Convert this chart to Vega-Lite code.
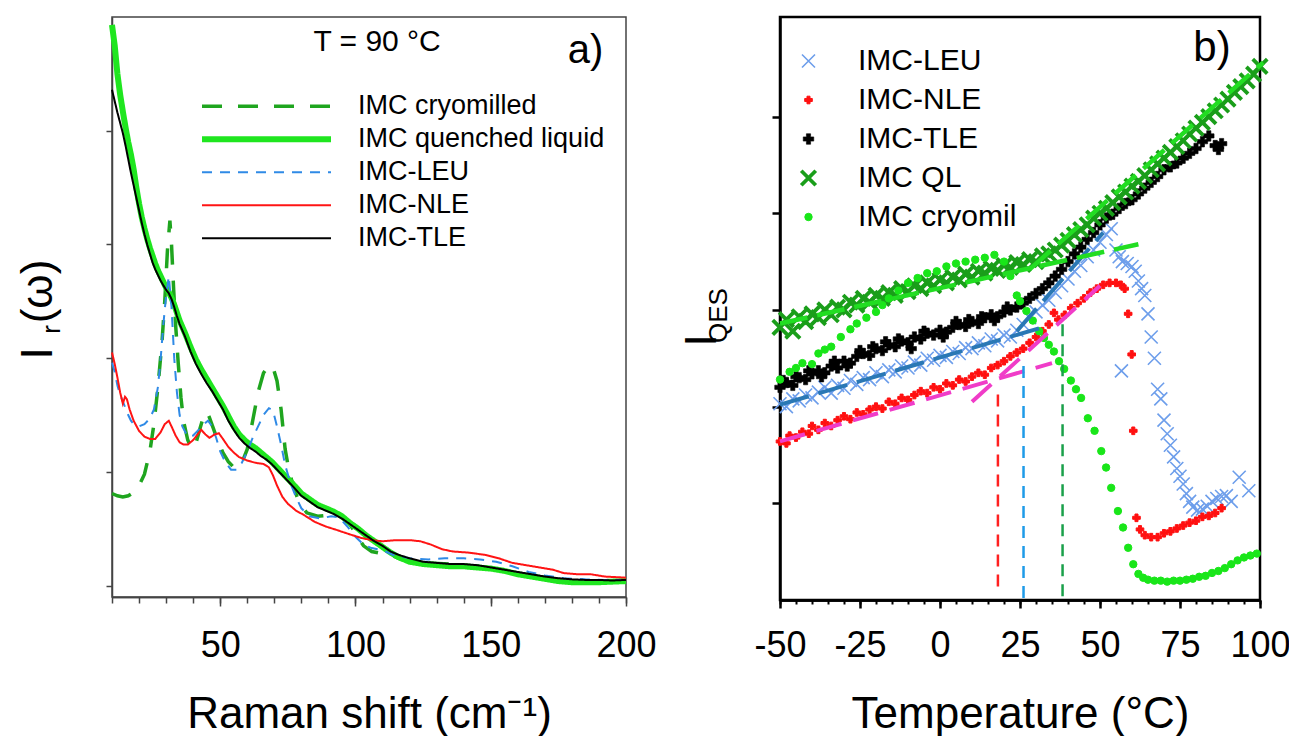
{
  "$schema": "https://vega.github.io/schema/vega-lite/v6.json",
  "autosize": {"type": "pad"},
  "padding": {"left": 15, "top": 12, "right": 0, "bottom": 0},
  "background": "white",
  "config": {
    "font": "Liberation Sans",
    "axis": {"grid": false, "labelColor": "#000", "titleColor": "#000", "titleFontWeight": "normal", "labelFont": "Liberation Sans", "titleFont": "Liberation Sans", "labelFlush": false, "labelOverlap": false},
    "legend": {"labelFont": "Liberation Sans", "labelColor": "#000", "labelLimit": 500},
    "text": {"font": "Liberation Sans", "color": "#000"}
  },
  "spacing": 154,
  "bounds": "flush",
  "resolve": {"scale": {"color": "independent", "strokeWidth": "independent", "strokeDash": "independent", "shape": "independent", "size": "independent", "fill": "independent", "stroke": "independent"}},
  "hconcat": [
    {
      "width": 514,
      "height": 580,
      "view": {"stroke": "#444", "strokeWidth": 1.5},
      "resolve": {"scale": {"y": "independent"}, "axis": {"x": "independent", "y": "independent"}},
      "layer": [
        {
          "data": {"values": [
            {"s":"IMC cryomilled","x":10,"y":0.81},{"s":"IMC cryomilled","x":12,"y":0.79},{"s":"IMC cryomilled","x":14,"y":0.78},{"s":"IMC cryomilled","x":16,"y":0.79},{"s":"IMC cryomilled","x":18,"y":0.82},{"s":"IMC cryomilled","x":20,"y":0.88},{"s":"IMC cryomilled","x":22,"y":0.98},{"s":"IMC cryomilled","x":24,"y":1.18},{"s":"IMC cryomilled","x":25.5,"y":1.42},{"s":"IMC cryomilled","x":27,"y":1.75},{"s":"IMC cryomilled","x":28.5,"y":2.15},{"s":"IMC cryomilled","x":29.5,"y":2.5},{"s":"IMC cryomilled","x":30.5,"y":2.95},{"s":"IMC cryomilled","x":31.4,"y":3.21},{"s":"IMC cryomilled","x":32,"y":3.0},{"s":"IMC cryomilled","x":32.8,"y":2.6},{"s":"IMC cryomilled","x":33.5,"y":2.3},{"s":"IMC cryomilled","x":34.5,"y":1.95},{"s":"IMC cryomilled","x":35.5,"y":1.65},{"s":"IMC cryomilled","x":36.5,"y":1.44},{"s":"IMC cryomilled","x":38,"y":1.28},{"s":"IMC cryomilled","x":39.5,"y":1.2},{"s":"IMC cryomilled","x":41,"y":1.25},{"s":"IMC cryomilled","x":42.5,"y":1.38},{"s":"IMC cryomilled","x":44,"y":1.5},{"s":"IMC cryomilled","x":45,"y":1.53},{"s":"IMC cryomilled","x":46,"y":1.48},{"s":"IMC cryomilled","x":47.5,"y":1.38},{"s":"IMC cryomilled","x":49,"y":1.28},{"s":"IMC cryomilled","x":51,"y":1.17},{"s":"IMC cryomilled","x":53,"y":1.09},{"s":"IMC cryomilled","x":55,"y":1.04},{"s":"IMC cryomilled","x":56.5,"y":1.03},{"s":"IMC cryomilled","x":58,"y":1.08},{"s":"IMC cryomilled","x":60,"y":1.2},{"s":"IMC cryomilled","x":62,"y":1.45},{"s":"IMC cryomilled","x":64,"y":1.7},{"s":"IMC cryomilled","x":66,"y":1.87},{"s":"IMC cryomilled","x":68,"y":1.94},{"s":"IMC cryomilled","x":69.5,"y":1.92},{"s":"IMC cryomilled","x":71,"y":1.8},{"s":"IMC cryomilled","x":72.5,"y":1.55},{"s":"IMC cryomilled","x":74,"y":1.2},{"s":"IMC cryomilled","x":75.5,"y":1.0},{"s":"IMC cryomilled","x":77,"y":0.88},{"s":"IMC cryomilled","x":79,"y":0.74},{"s":"IMC cryomilled","x":82,"y":0.64},{"s":"IMC cryomilled","x":86,"y":0.61},{"s":"IMC cryomilled","x":90,"y":0.62},{"s":"IMC cryomilled","x":94,"y":0.62},{"s":"IMC cryomilled","x":97,"y":0.57},{"s":"IMC cryomilled","x":99,"y":0.5},{"s":"IMC cryomilled","x":101,"y":0.42},{"s":"IMC cryomilled","x":103,"y":0.35},{"s":"IMC cryomilled","x":106,"y":0.3},{"s":"IMC cryomilled","x":110,"y":0.28},{"s":"IMC cryomilled","x":113,"y":0.27},{"s":"IMC cryomilled","x":117,"y":0.23},{"s":"IMC cryomilled","x":122,"y":0.21},{"s":"IMC cryomilled","x":127,"y":0.2},{"s":"IMC cryomilled","x":135,"y":0.19},{"s":"IMC cryomilled","x":140,"y":0.18},{"s":"IMC cryomilled","x":145,"y":0.17},{"s":"IMC cryomilled","x":150,"y":0.15},{"s":"IMC cryomilled","x":155,"y":0.13},{"s":"IMC cryomilled","x":160,"y":0.11},{"s":"IMC cryomilled","x":165,"y":0.09},{"s":"IMC cryomilled","x":170,"y":0.07},{"s":"IMC cryomilled","x":175,"y":0.05},{"s":"IMC cryomilled","x":180,"y":0.04},{"s":"IMC cryomilled","x":190,"y":0.035},{"s":"IMC cryomilled","x":200,"y":0.035},
            {"s":"IMC quenched liquid","x":10,"y":4.93},{"s":"IMC quenched liquid","x":11,"y":4.75},{"s":"IMC quenched liquid","x":12,"y":4.5},{"s":"IMC quenched liquid","x":13,"y":4.32},{"s":"IMC quenched liquid","x":14,"y":4.17},{"s":"IMC quenched liquid","x":15,"y":4.03},{"s":"IMC quenched liquid","x":16,"y":3.9},{"s":"IMC quenched liquid","x":17,"y":3.79},{"s":"IMC quenched liquid","x":18,"y":3.66},{"s":"IMC quenched liquid","x":19,"y":3.5},{"s":"IMC quenched liquid","x":20,"y":3.36},{"s":"IMC quenched liquid","x":21,"y":3.24},{"s":"IMC quenched liquid","x":22,"y":3.14},{"s":"IMC quenched liquid","x":23,"y":3.05},{"s":"IMC quenched liquid","x":24,"y":2.97},{"s":"IMC quenched liquid","x":25,"y":2.9},{"s":"IMC quenched liquid","x":26,"y":2.83},{"s":"IMC quenched liquid","x":27,"y":2.77},{"s":"IMC quenched liquid","x":28,"y":2.72},{"s":"IMC quenched liquid","x":29,"y":2.67},{"s":"IMC quenched liquid","x":30,"y":2.62},{"s":"IMC quenched liquid","x":31,"y":2.58},{"s":"IMC quenched liquid","x":32,"y":2.53},{"s":"IMC quenched liquid","x":33,"y":2.47},{"s":"IMC quenched liquid","x":34,"y":2.4},{"s":"IMC quenched liquid","x":35,"y":2.33},{"s":"IMC quenched liquid","x":37,"y":2.22},{"s":"IMC quenched liquid","x":39,"y":2.1},{"s":"IMC quenched liquid","x":41,"y":1.99},{"s":"IMC quenched liquid","x":43,"y":1.9},{"s":"IMC quenched liquid","x":45,"y":1.82},{"s":"IMC quenched liquid","x":47,"y":1.74},{"s":"IMC quenched liquid","x":49,"y":1.66},{"s":"IMC quenched liquid","x":51,"y":1.58},{"s":"IMC quenched liquid","x":53,"y":1.49},{"s":"IMC quenched liquid","x":55,"y":1.4},{"s":"IMC quenched liquid","x":57,"y":1.33},{"s":"IMC quenched liquid","x":59,"y":1.28},{"s":"IMC quenched liquid","x":61,"y":1.24},{"s":"IMC quenched liquid","x":63,"y":1.21},{"s":"IMC quenched liquid","x":65,"y":1.17},{"s":"IMC quenched liquid","x":67,"y":1.13},{"s":"IMC quenched liquid","x":69,"y":1.09},{"s":"IMC quenched liquid","x":71,"y":1.04},{"s":"IMC quenched liquid","x":73,"y":0.99},{"s":"IMC quenched liquid","x":75,"y":0.94},{"s":"IMC quenched liquid","x":77,"y":0.89},{"s":"IMC quenched liquid","x":80,"y":0.81},{"s":"IMC quenched liquid","x":83,"y":0.76},{"s":"IMC quenched liquid","x":86,"y":0.71},{"s":"IMC quenched liquid","x":89,"y":0.68},{"s":"IMC quenched liquid","x":92,"y":0.65},{"s":"IMC quenched liquid","x":95,"y":0.61},{"s":"IMC quenched liquid","x":98,"y":0.55},{"s":"IMC quenched liquid","x":101,"y":0.5},{"s":"IMC quenched liquid","x":104,"y":0.44},{"s":"IMC quenched liquid","x":107,"y":0.39},{"s":"IMC quenched liquid","x":110,"y":0.34},{"s":"IMC quenched liquid","x":113,"y":0.29},{"s":"IMC quenched liquid","x":116,"y":0.25},{"s":"IMC quenched liquid","x":120,"y":0.21},{"s":"IMC quenched liquid","x":125,"y":0.19},{"s":"IMC quenched liquid","x":130,"y":0.18},{"s":"IMC quenched liquid","x":135,"y":0.17},{"s":"IMC quenched liquid","x":140,"y":0.17},{"s":"IMC quenched liquid","x":145,"y":0.16},{"s":"IMC quenched liquid","x":150,"y":0.15},{"s":"IMC quenched liquid","x":155,"y":0.13},{"s":"IMC quenched liquid","x":160,"y":0.1},{"s":"IMC quenched liquid","x":165,"y":0.08},{"s":"IMC quenched liquid","x":170,"y":0.06},{"s":"IMC quenched liquid","x":175,"y":0.04},{"s":"IMC quenched liquid","x":180,"y":0.03},{"s":"IMC quenched liquid","x":190,"y":0.03},{"s":"IMC quenched liquid","x":200,"y":0.04},
            {"s":"IMC-LEU","x":10,"y":1.96},{"s":"IMC-LEU","x":11,"y":1.88},{"s":"IMC-LEU","x":12,"y":1.76},{"s":"IMC-LEU","x":13,"y":1.68},{"s":"IMC-LEU","x":14,"y":1.62},{"s":"IMC-LEU","x":15,"y":1.56},{"s":"IMC-LEU","x":16,"y":1.5},{"s":"IMC-LEU","x":17,"y":1.45},{"s":"IMC-LEU","x":18,"y":1.42},{"s":"IMC-LEU","x":20,"y":1.4},{"s":"IMC-LEU","x":22,"y":1.42},{"s":"IMC-LEU","x":24,"y":1.47},{"s":"IMC-LEU","x":25.5,"y":1.55},{"s":"IMC-LEU","x":27,"y":1.75},{"s":"IMC-LEU","x":28,"y":2.0},{"s":"IMC-LEU","x":29,"y":2.3},{"s":"IMC-LEU","x":30,"y":2.55},{"s":"IMC-LEU","x":31,"y":2.72},{"s":"IMC-LEU","x":32,"y":2.45},{"s":"IMC-LEU","x":33,"y":2.0},{"s":"IMC-LEU","x":34,"y":1.7},{"s":"IMC-LEU","x":35,"y":1.5},{"s":"IMC-LEU","x":36,"y":1.4},{"s":"IMC-LEU","x":38,"y":1.31},{"s":"IMC-LEU","x":40,"y":1.32},{"s":"IMC-LEU","x":42,"y":1.37},{"s":"IMC-LEU","x":44,"y":1.42},{"s":"IMC-LEU","x":45.5,"y":1.45},{"s":"IMC-LEU","x":47,"y":1.4},{"s":"IMC-LEU","x":48.5,"y":1.3},{"s":"IMC-LEU","x":50,"y":1.18},{"s":"IMC-LEU","x":52,"y":1.08},{"s":"IMC-LEU","x":54,"y":1.02},{"s":"IMC-LEU","x":56,"y":1.02},{"s":"IMC-LEU","x":58,"y":1.08},{"s":"IMC-LEU","x":60,"y":1.18},{"s":"IMC-LEU","x":62,"y":1.3},{"s":"IMC-LEU","x":64,"y":1.4},{"s":"IMC-LEU","x":66,"y":1.5},{"s":"IMC-LEU","x":68,"y":1.56},{"s":"IMC-LEU","x":69.5,"y":1.54},{"s":"IMC-LEU","x":71,"y":1.4},{"s":"IMC-LEU","x":72.5,"y":1.24},{"s":"IMC-LEU","x":74,"y":1.06},{"s":"IMC-LEU","x":76,"y":0.9},{"s":"IMC-LEU","x":78,"y":0.78},{"s":"IMC-LEU","x":80,"y":0.68},{"s":"IMC-LEU","x":83,"y":0.61},{"s":"IMC-LEU","x":87,"y":0.59},{"s":"IMC-LEU","x":91,"y":0.61},{"s":"IMC-LEU","x":94,"y":0.6},{"s":"IMC-LEU","x":97,"y":0.52},{"s":"IMC-LEU","x":100,"y":0.43},{"s":"IMC-LEU","x":103,"y":0.36},{"s":"IMC-LEU","x":106,"y":0.33},{"s":"IMC-LEU","x":110,"y":0.31},{"s":"IMC-LEU","x":114,"y":0.27},{"s":"IMC-LEU","x":120,"y":0.24},{"s":"IMC-LEU","x":127,"y":0.23},{"s":"IMC-LEU","x":133,"y":0.24},{"s":"IMC-LEU","x":140,"y":0.24},{"s":"IMC-LEU","x":146,"y":0.23},{"s":"IMC-LEU","x":152,"y":0.21},{"s":"IMC-LEU","x":158,"y":0.17},{"s":"IMC-LEU","x":164,"y":0.12},{"s":"IMC-LEU","x":170,"y":0.09},{"s":"IMC-LEU","x":177,"y":0.065},{"s":"IMC-LEU","x":185,"y":0.055},{"s":"IMC-LEU","x":192,"y":0.05},{"s":"IMC-LEU","x":200,"y":0.05},
            {"s":"IMC-NLE","x":10,"y":2.05},{"s":"IMC-NLE","x":11,"y":1.95},{"s":"IMC-NLE","x":12,"y":1.83},{"s":"IMC-NLE","x":13,"y":1.7},{"s":"IMC-NLE","x":14,"y":1.6},{"s":"IMC-NLE","x":14.8,"y":1.66},{"s":"IMC-NLE","x":15.5,"y":1.64},{"s":"IMC-NLE","x":16.5,"y":1.55},{"s":"IMC-NLE","x":18,"y":1.45},{"s":"IMC-NLE","x":20,"y":1.36},{"s":"IMC-NLE","x":22,"y":1.31},{"s":"IMC-NLE","x":24,"y":1.29},{"s":"IMC-NLE","x":26,"y":1.29},{"s":"IMC-NLE","x":28,"y":1.35},{"s":"IMC-NLE","x":29.5,"y":1.42},{"s":"IMC-NLE","x":31,"y":1.45},{"s":"IMC-NLE","x":32,"y":1.4},{"s":"IMC-NLE","x":33.5,"y":1.32},{"s":"IMC-NLE","x":35,"y":1.26},{"s":"IMC-NLE","x":36.5,"y":1.24},{"s":"IMC-NLE","x":38,"y":1.24},{"s":"IMC-NLE","x":40,"y":1.28},{"s":"IMC-NLE","x":42,"y":1.34},{"s":"IMC-NLE","x":43,"y":1.37},{"s":"IMC-NLE","x":44.5,"y":1.33},{"s":"IMC-NLE","x":46,"y":1.3},{"s":"IMC-NLE","x":48,"y":1.33},{"s":"IMC-NLE","x":49.5,"y":1.34},{"s":"IMC-NLE","x":51,"y":1.29},{"s":"IMC-NLE","x":53,"y":1.22},{"s":"IMC-NLE","x":55,"y":1.17},{"s":"IMC-NLE","x":57,"y":1.13},{"s":"IMC-NLE","x":60,"y":1.1},{"s":"IMC-NLE","x":63,"y":1.08},{"s":"IMC-NLE","x":66,"y":1.07},{"s":"IMC-NLE","x":68,"y":1.04},{"s":"IMC-NLE","x":69.5,"y":0.97},{"s":"IMC-NLE","x":71,"y":0.88},{"s":"IMC-NLE","x":73,"y":0.78},{"s":"IMC-NLE","x":75,"y":0.72},{"s":"IMC-NLE","x":78,"y":0.66},{"s":"IMC-NLE","x":81,"y":0.62},{"s":"IMC-NLE","x":85,"y":0.56},{"s":"IMC-NLE","x":89,"y":0.52},{"s":"IMC-NLE","x":93,"y":0.49},{"s":"IMC-NLE","x":98,"y":0.45},{"s":"IMC-NLE","x":102,"y":0.42},{"s":"IMC-NLE","x":106,"y":0.4},{"s":"IMC-NLE","x":110,"y":0.39},{"s":"IMC-NLE","x":115,"y":0.4},{"s":"IMC-NLE","x":120,"y":0.4},{"s":"IMC-NLE","x":124,"y":0.39},{"s":"IMC-NLE","x":128,"y":0.36},{"s":"IMC-NLE","x":132,"y":0.32},{"s":"IMC-NLE","x":136,"y":0.3},{"s":"IMC-NLE","x":142,"y":0.29},{"s":"IMC-NLE","x":148,"y":0.27},{"s":"IMC-NLE","x":153,"y":0.24},{"s":"IMC-NLE","x":158,"y":0.2},{"s":"IMC-NLE","x":163,"y":0.18},{"s":"IMC-NLE","x":168,"y":0.16},{"s":"IMC-NLE","x":173,"y":0.14},{"s":"IMC-NLE","x":177,"y":0.11},{"s":"IMC-NLE","x":182,"y":0.1},{"s":"IMC-NLE","x":187,"y":0.1},{"s":"IMC-NLE","x":192,"y":0.08},{"s":"IMC-NLE","x":196,"y":0.075},{"s":"IMC-NLE","x":200,"y":0.07},
            {"s":"IMC-TLE","x":10,"y":4.36},{"s":"IMC-TLE","x":11,"y":4.26},{"s":"IMC-TLE","x":12,"y":4.16},{"s":"IMC-TLE","x":13,"y":4.07},{"s":"IMC-TLE","x":14,"y":3.98},{"s":"IMC-TLE","x":15,"y":3.87},{"s":"IMC-TLE","x":16,"y":3.75},{"s":"IMC-TLE","x":17,"y":3.63},{"s":"IMC-TLE","x":18,"y":3.52},{"s":"IMC-TLE","x":19,"y":3.41},{"s":"IMC-TLE","x":20,"y":3.3},{"s":"IMC-TLE","x":21,"y":3.19},{"s":"IMC-TLE","x":22,"y":3.09},{"s":"IMC-TLE","x":23,"y":3.0},{"s":"IMC-TLE","x":24,"y":2.92},{"s":"IMC-TLE","x":25,"y":2.84},{"s":"IMC-TLE","x":26,"y":2.78},{"s":"IMC-TLE","x":27,"y":2.73},{"s":"IMC-TLE","x":28,"y":2.68},{"s":"IMC-TLE","x":29,"y":2.64},{"s":"IMC-TLE","x":30,"y":2.6},{"s":"IMC-TLE","x":31,"y":2.57},{"s":"IMC-TLE","x":32,"y":2.52},{"s":"IMC-TLE","x":33,"y":2.45},{"s":"IMC-TLE","x":34,"y":2.37},{"s":"IMC-TLE","x":35,"y":2.3},{"s":"IMC-TLE","x":37,"y":2.19},{"s":"IMC-TLE","x":39,"y":2.06},{"s":"IMC-TLE","x":41,"y":1.95},{"s":"IMC-TLE","x":43,"y":1.86},{"s":"IMC-TLE","x":45,"y":1.78},{"s":"IMC-TLE","x":47,"y":1.71},{"s":"IMC-TLE","x":49,"y":1.63},{"s":"IMC-TLE","x":51,"y":1.55},{"s":"IMC-TLE","x":53,"y":1.45},{"s":"IMC-TLE","x":55,"y":1.37},{"s":"IMC-TLE","x":57,"y":1.3},{"s":"IMC-TLE","x":59,"y":1.25},{"s":"IMC-TLE","x":61,"y":1.21},{"s":"IMC-TLE","x":63,"y":1.18},{"s":"IMC-TLE","x":65,"y":1.14},{"s":"IMC-TLE","x":67,"y":1.11},{"s":"IMC-TLE","x":69,"y":1.07},{"s":"IMC-TLE","x":71,"y":1.02},{"s":"IMC-TLE","x":73,"y":0.97},{"s":"IMC-TLE","x":75,"y":0.92},{"s":"IMC-TLE","x":77,"y":0.87},{"s":"IMC-TLE","x":80,"y":0.79},{"s":"IMC-TLE","x":83,"y":0.74},{"s":"IMC-TLE","x":86,"y":0.69},{"s":"IMC-TLE","x":89,"y":0.66},{"s":"IMC-TLE","x":92,"y":0.63},{"s":"IMC-TLE","x":95,"y":0.59},{"s":"IMC-TLE","x":98,"y":0.54},{"s":"IMC-TLE","x":101,"y":0.49},{"s":"IMC-TLE","x":104,"y":0.44},{"s":"IMC-TLE","x":107,"y":0.39},{"s":"IMC-TLE","x":110,"y":0.35},{"s":"IMC-TLE","x":113,"y":0.3},{"s":"IMC-TLE","x":116,"y":0.27},{"s":"IMC-TLE","x":120,"y":0.24},{"s":"IMC-TLE","x":125,"y":0.21},{"s":"IMC-TLE","x":130,"y":0.2},{"s":"IMC-TLE","x":135,"y":0.19},{"s":"IMC-TLE","x":140,"y":0.19},{"s":"IMC-TLE","x":145,"y":0.18},{"s":"IMC-TLE","x":150,"y":0.16},{"s":"IMC-TLE","x":155,"y":0.14},{"s":"IMC-TLE","x":160,"y":0.12},{"s":"IMC-TLE","x":165,"y":0.1},{"s":"IMC-TLE","x":170,"y":0.08},{"s":"IMC-TLE","x":175,"y":0.065},{"s":"IMC-TLE","x":180,"y":0.055},{"s":"IMC-TLE","x":185,"y":0.05},{"s":"IMC-TLE","x":190,"y":0.05},{"s":"IMC-TLE","x":195,"y":0.045},{"s":"IMC-TLE","x":200,"y":0.05}
          ]},
          "mark": {"type": "line", "strokeCap": "butt"},
          "encoding": {
            "x": {"field": "x", "type": "quantitative", "scale": {"domain": [10, 200], "nice": false, "zero": false},
              "axis": {"values": [50, 100, 150, 200], "tickSize": 9, "tickWidth": 1.5, "tickColor": "#444", "domainColor": "#444", "domainWidth": 1.5, "labelFontSize": 36, "labelBaseline": "alphabetic", "labelPadding": 50, "title": "Raman shift (cm⁻¹)", "titleFontSize": 44, "titleY": 130, "titleBaseline": "alphabetic"}},
            "y": {"field": "y", "type": "quantitative", "scale": {"domain": [-0.1, 5], "nice": false, "zero": false},
              "axis": {"orient": "left", "values": [0, 1, 2, 3, 4], "labels": false, "tickSize": 6, "tickWidth": 1.5, "tickColor": "#444", "domainColor": "#444", "domainWidth": 1.5, "title": "I", "titleFontSize": 44, "titleX": -61, "titleY": 336, "titleAngle": 270, "titleAlign": "center", "titleBaseline": "alphabetic"}},
            "color": {"field": "s", "type": "nominal", "sort": null,
              "scale": {"domain": ["IMC cryomilled", "IMC quenched liquid", "IMC-LEU", "IMC-NLE", "IMC-TLE"], "range": ["#1fa51f", "#1fe61f", "#2f8ae6", "#ff1414", "#000000"]},
              "legend": {"orient": "none", "legendX": 87, "legendY": 73, "title": null, "symbolType": "stroke", "symbolSize": 16641, "clipHeight": 32.4, "rowPadding": 0, "labelOffset": 24, "labelFontSize": 27, "padding": 0}},
            "strokeDash": {"field": "s", "type": "nominal", "sort": null,
              "scale": {"domain": ["IMC cryomilled", "IMC quenched liquid", "IMC-LEU", "IMC-NLE", "IMC-TLE"], "range": [[20, 16], [1, 0], [10, 8], [1, 0], [1, 0]]},
              "legend": {"orient": "none", "legendX": 87, "legendY": 73, "title": null, "symbolType": "stroke", "symbolSize": 16641, "clipHeight": 32.4, "rowPadding": 0, "labelOffset": 24, "labelFontSize": 27, "padding": 0}},
            "strokeWidth": {"field": "s", "type": "nominal", "sort": null,
              "scale": {"type": "ordinal", "domain": ["IMC cryomilled", "IMC quenched liquid", "IMC-LEU", "IMC-NLE", "IMC-TLE"], "range": [3.5, 6, 2, 2, 2]},
              "legend": {"orient": "none", "legendX": 87, "legendY": 73, "title": null, "symbolType": "stroke", "symbolSize": 16641, "clipHeight": 32.4, "rowPadding": 0, "labelOffset": 24, "labelFontSize": 27, "padding": 0}}
          }
        },
        {
          "data": {"values": [{"label": "T = 90 °C", "x": 108, "y": 4.78}]},
          "mark": {"type": "text", "fontSize": 30, "align": "center", "baseline": "middle"},
          "encoding": {
            "x": {"field": "x", "type": "quantitative", "scale": {"domain": [10, 200], "nice": false, "zero": false},
              "axis": {"orient": "bottom", "values": [10,20,30,40,50,60,70,80,90,100,110,120,130,140,150,160,170,180,190,200], "labels": false, "tickSize": 6, "tickWidth": 1.5, "tickColor": "#444", "domainColor": "#444", "domainWidth": 1.5, "title": null}},
            "y": {"field": "y", "type": "quantitative", "scale": {"domain": [-0.1, 5], "nice": false, "zero": false},
              "axis": {"orient": "left", "domain": false, "ticks": false, "labels": false, "title": "r", "titleFontSize": 26, "titleX": -53, "titleY": 312, "titleAngle": 270, "titleAlign": "center", "titleBaseline": "alphabetic"}},
            "text": {"field": "label"}
          }
        },
        {
          "data": {"values": [{"label": "a)", "x": 185, "y": 4.7}]},
          "mark": {"type": "text", "fontSize": 40, "align": "center", "baseline": "middle"},
          "encoding": {
            "x": {"field": "x", "type": "quantitative", "scale": {"domain": [10, 200], "nice": false, "zero": false}, "axis": null},
            "y": {"field": "y", "type": "quantitative", "scale": {"domain": [-0.1, 5], "nice": false, "zero": false},
              "axis": {"orient": "left", "domain": false, "ticks": false, "labels": false, "title": "(ω)", "titleFontSize": 44, "titleX": -61, "titleY": 274, "titleAngle": 270, "titleAlign": "center", "titleBaseline": "alphabetic"}},
            "text": {"field": "label"}
          }
        }
      ]
    },
    {
      "width": 480,
      "height": 583,
      "view": {"stroke": "#000", "strokeWidth": 2.5},
      "resolve": {"scale": {"y": "independent"}, "axis": {"x": "independent", "y": "independent"}},
      "layer": [
        {
          "data": {"values": [
            {"s":"IMC-LEU","T":-50,"I":2.03},{"s":"IMC-LEU","T":-48,"I":2.0},{"s":"IMC-LEU","T":-46,"I":2.08},{"s":"IMC-LEU","T":-44,"I":2.06},{"s":"IMC-LEU","T":-42,"I":2.12},{"s":"IMC-LEU","T":-40,"I":2.09},{"s":"IMC-LEU","T":-38,"I":2.15},{"s":"IMC-LEU","T":-36,"I":2.2},{"s":"IMC-LEU","T":-34,"I":2.14},{"s":"IMC-LEU","T":-32,"I":2.22},{"s":"IMC-LEU","T":-30,"I":2.19},{"s":"IMC-LEU","T":-28,"I":2.27},{"s":"IMC-LEU","T":-26,"I":2.23},{"s":"IMC-LEU","T":-24,"I":2.3},{"s":"IMC-LEU","T":-22,"I":2.28},{"s":"IMC-LEU","T":-20,"I":2.35},{"s":"IMC-LEU","T":-18,"I":2.31},{"s":"IMC-LEU","T":-16,"I":2.38},{"s":"IMC-LEU","T":-14,"I":2.36},{"s":"IMC-LEU","T":-12,"I":2.42},{"s":"IMC-LEU","T":-10,"I":2.4},{"s":"IMC-LEU","T":-8,"I":2.46},{"s":"IMC-LEU","T":-6,"I":2.43},{"s":"IMC-LEU","T":-4,"I":2.5},{"s":"IMC-LEU","T":-2,"I":2.48},{"s":"IMC-LEU","T":0,"I":2.53},{"s":"IMC-LEU","T":2,"I":2.51},{"s":"IMC-LEU","T":4,"I":2.57},{"s":"IMC-LEU","T":6,"I":2.55},{"s":"IMC-LEU","T":8,"I":2.61},{"s":"IMC-LEU","T":10,"I":2.6},{"s":"IMC-LEU","T":12,"I":2.66},{"s":"IMC-LEU","T":14,"I":2.63},{"s":"IMC-LEU","T":16,"I":2.7},{"s":"IMC-LEU","T":18,"I":2.68},{"s":"IMC-LEU","T":20,"I":2.74},{"s":"IMC-LEU","T":22,"I":2.72},{"s":"IMC-LEU","T":24,"I":2.79},{"s":"IMC-LEU","T":26,"I":2.85},{"s":"IMC-LEU","T":28,"I":2.92},{"s":"IMC-LEU","T":30,"I":2.98},{"s":"IMC-LEU","T":32,"I":3.05},{"s":"IMC-LEU","T":34,"I":3.1},{"s":"IMC-LEU","T":36,"I":3.18},{"s":"IMC-LEU","T":38,"I":3.25},{"s":"IMC-LEU","T":40,"I":3.32},{"s":"IMC-LEU","T":42,"I":3.4},{"s":"IMC-LEU","T":44,"I":3.46},{"s":"IMC-LEU","T":46,"I":3.55},{"s":"IMC-LEU","T":48,"I":3.62},{"s":"IMC-LEU","T":50,"I":3.7},{"s":"IMC-LEU","T":52,"I":3.78},{"s":"IMC-LEU","T":53.5,"I":3.84},{"s":"IMC-LEU","T":55,"I":3.62},{"s":"IMC-LEU","T":56,"I":3.55},{"s":"IMC-LEU","T":57,"I":3.5},{"s":"IMC-LEU","T":58.5,"I":3.48},{"s":"IMC-LEU","T":60,"I":3.45},{"s":"IMC-LEU","T":61,"I":3.4},{"s":"IMC-LEU","T":62,"I":3.3},{"s":"IMC-LEU","T":63,"I":3.22},{"s":"IMC-LEU","T":64,"I":3.15},{"s":"IMC-LEU","T":65,"I":2.96},{"s":"IMC-LEU","T":56.7,"I":2.37},{"s":"IMC-LEU","T":66,"I":2.72},{"s":"IMC-LEU","T":67,"I":2.5},{"s":"IMC-LEU","T":68,"I":2.18},{"s":"IMC-LEU","T":69,"I":2.08},{"s":"IMC-LEU","T":70,"I":1.86},{"s":"IMC-LEU","T":71,"I":1.72},{"s":"IMC-LEU","T":72,"I":1.6},{"s":"IMC-LEU","T":73,"I":1.48},{"s":"IMC-LEU","T":74,"I":1.36},{"s":"IMC-LEU","T":75,"I":1.28},{"s":"IMC-LEU","T":76,"I":1.2},{"s":"IMC-LEU","T":77,"I":1.1},{"s":"IMC-LEU","T":78,"I":1.02},{"s":"IMC-LEU","T":79,"I":0.96},{"s":"IMC-LEU","T":80.5,"I":0.93},{"s":"IMC-LEU","T":82,"I":0.94},{"s":"IMC-LEU","T":83.5,"I":0.97},{"s":"IMC-LEU","T":85,"I":1.02},{"s":"IMC-LEU","T":86.5,"I":1.05},{"s":"IMC-LEU","T":88,"I":1.07},{"s":"IMC-LEU","T":89.5,"I":1.08},{"s":"IMC-LEU","T":91,"I":1.02},{"s":"IMC-LEU","T":93.5,"I":1.27},{"s":"IMC-LEU","T":96.5,"I":1.13},
            {"s":"IMC-NLE","T":-50,"I":1.64},{"s":"IMC-NLE","T":-48,"I":1.62},{"s":"IMC-NLE","T":-47,"I":1.7},{"s":"IMC-NLE","T":-45,"I":1.68},{"s":"IMC-NLE","T":-43,"I":1.74},{"s":"IMC-NLE","T":-41,"I":1.72},{"s":"IMC-NLE","T":-40,"I":1.8},{"s":"IMC-NLE","T":-38,"I":1.76},{"s":"IMC-NLE","T":-36,"I":1.83},{"s":"IMC-NLE","T":-34,"I":1.8},{"s":"IMC-NLE","T":-32,"I":1.86},{"s":"IMC-NLE","T":-30,"I":1.9},{"s":"IMC-NLE","T":-28,"I":1.87},{"s":"IMC-NLE","T":-26,"I":1.94},{"s":"IMC-NLE","T":-24,"I":1.92},{"s":"IMC-NLE","T":-22,"I":1.97},{"s":"IMC-NLE","T":-20,"I":2.0},{"s":"IMC-NLE","T":-18,"I":1.98},{"s":"IMC-NLE","T":-16,"I":2.05},{"s":"IMC-NLE","T":-14,"I":2.03},{"s":"IMC-NLE","T":-12,"I":2.09},{"s":"IMC-NLE","T":-10,"I":2.07},{"s":"IMC-NLE","T":-8,"I":2.12},{"s":"IMC-NLE","T":-6,"I":2.16},{"s":"IMC-NLE","T":-4,"I":2.14},{"s":"IMC-NLE","T":-2,"I":2.2},{"s":"IMC-NLE","T":0,"I":2.18},{"s":"IMC-NLE","T":2,"I":2.24},{"s":"IMC-NLE","T":4,"I":2.22},{"s":"IMC-NLE","T":6,"I":2.28},{"s":"IMC-NLE","T":8,"I":2.26},{"s":"IMC-NLE","T":10,"I":2.31},{"s":"IMC-NLE","T":12,"I":2.35},{"s":"IMC-NLE","T":14,"I":2.33},{"s":"IMC-NLE","T":16,"I":2.4},{"s":"IMC-NLE","T":18,"I":2.43},{"s":"IMC-NLE","T":20,"I":2.47},{"s":"IMC-NLE","T":22,"I":2.52},{"s":"IMC-NLE","T":24,"I":2.56},{"s":"IMC-NLE","T":26,"I":2.6},{"s":"IMC-NLE","T":28,"I":2.66},{"s":"IMC-NLE","T":30,"I":2.72},{"s":"IMC-NLE","T":32,"I":2.78},{"s":"IMC-NLE","T":34,"I":2.85},{"s":"IMC-NLE","T":35.6,"I":2.97},{"s":"IMC-NLE","T":37,"I":2.9},{"s":"IMC-NLE","T":39,"I":2.95},{"s":"IMC-NLE","T":41,"I":3.02},{"s":"IMC-NLE","T":43,"I":3.07},{"s":"IMC-NLE","T":45,"I":3.12},{"s":"IMC-NLE","T":47,"I":3.18},{"s":"IMC-NLE","T":49,"I":3.22},{"s":"IMC-NLE","T":51,"I":3.26},{"s":"IMC-NLE","T":53,"I":3.28},{"s":"IMC-NLE","T":55,"I":3.28},{"s":"IMC-NLE","T":56.5,"I":3.26},{"s":"IMC-NLE","T":57.7,"I":3.22},{"s":"IMC-NLE","T":58.8,"I":2.96},{"s":"IMC-NLE","T":59.9,"I":2.54},{"s":"IMC-NLE","T":60.4,"I":1.75},{"s":"IMC-NLE","T":61.4,"I":0.85},{"s":"IMC-NLE","T":62.5,"I":0.73},{"s":"IMC-NLE","T":64,"I":0.67},{"s":"IMC-NLE","T":66,"I":0.65},{"s":"IMC-NLE","T":68,"I":0.65},{"s":"IMC-NLE","T":70,"I":0.69},{"s":"IMC-NLE","T":72,"I":0.71},{"s":"IMC-NLE","T":74,"I":0.74},{"s":"IMC-NLE","T":76,"I":0.77},{"s":"IMC-NLE","T":78,"I":0.8},{"s":"IMC-NLE","T":80,"I":0.82},{"s":"IMC-NLE","T":82,"I":0.86},{"s":"IMC-NLE","T":84,"I":0.87},{"s":"IMC-NLE","T":86,"I":0.9},{"s":"IMC-NLE","T":88,"I":0.95},
            {"s":"IMC-TLE","T":-50,"I":2.2},{"s":"IMC-TLE","T":-49,"I":2.27},{"s":"IMC-TLE","T":-48,"I":2.25},{"s":"IMC-TLE","T":-46,"I":2.22},{"s":"IMC-TLE","T":-45,"I":2.31},{"s":"IMC-TLE","T":-44,"I":2.3},{"s":"IMC-TLE","T":-42,"I":2.28},{"s":"IMC-TLE","T":-41,"I":2.37},{"s":"IMC-TLE","T":-40,"I":2.34},{"s":"IMC-TLE","T":-38,"I":2.37},{"s":"IMC-TLE","T":-37,"I":2.31},{"s":"IMC-TLE","T":-36,"I":2.35},{"s":"IMC-TLE","T":-34,"I":2.42},{"s":"IMC-TLE","T":-33,"I":2.47},{"s":"IMC-TLE","T":-32,"I":2.4},{"s":"IMC-TLE","T":-30,"I":2.47},{"s":"IMC-TLE","T":-29,"I":2.42},{"s":"IMC-TLE","T":-28,"I":2.45},{"s":"IMC-TLE","T":-26,"I":2.52},{"s":"IMC-TLE","T":-25,"I":2.58},{"s":"IMC-TLE","T":-24,"I":2.55},{"s":"IMC-TLE","T":-22,"I":2.53},{"s":"IMC-TLE","T":-21,"I":2.62},{"s":"IMC-TLE","T":-20,"I":2.6},{"s":"IMC-TLE","T":-18,"I":2.58},{"s":"IMC-TLE","T":-17,"I":2.67},{"s":"IMC-TLE","T":-16,"I":2.64},{"s":"IMC-TLE","T":-14,"I":2.62},{"s":"IMC-TLE","T":-13,"I":2.7},{"s":"IMC-TLE","T":-12,"I":2.68},{"s":"IMC-TLE","T":-10,"I":2.66},{"s":"IMC-TLE","T":-9,"I":2.6},{"s":"IMC-TLE","T":-8,"I":2.72},{"s":"IMC-TLE","T":-6,"I":2.7},{"s":"IMC-TLE","T":-5,"I":2.78},{"s":"IMC-TLE","T":-4,"I":2.76},{"s":"IMC-TLE","T":-2,"I":2.74},{"s":"IMC-TLE","T":0,"I":2.79},{"s":"IMC-TLE","T":1,"I":2.72},{"s":"IMC-TLE","T":2,"I":2.77},{"s":"IMC-TLE","T":4,"I":2.82},{"s":"IMC-TLE","T":5,"I":2.88},{"s":"IMC-TLE","T":6,"I":2.85},{"s":"IMC-TLE","T":8,"I":2.83},{"s":"IMC-TLE","T":9,"I":2.9},{"s":"IMC-TLE","T":10,"I":2.88},{"s":"IMC-TLE","T":12,"I":2.86},{"s":"IMC-TLE","T":13,"I":2.93},{"s":"IMC-TLE","T":14,"I":2.92},{"s":"IMC-TLE","T":16,"I":2.95},{"s":"IMC-TLE","T":17,"I":2.89},{"s":"IMC-TLE","T":18,"I":2.93},{"s":"IMC-TLE","T":20,"I":2.98},{"s":"IMC-TLE","T":21,"I":3.03},{"s":"IMC-TLE","T":22,"I":3.0},{"s":"IMC-TLE","T":24,"I":3.03},{"s":"IMC-TLE","T":26,"I":3.07},{"s":"IMC-TLE","T":28,"I":3.12},{"s":"IMC-TLE","T":30,"I":3.17},{"s":"IMC-TLE","T":32,"I":3.22},{"s":"IMC-TLE","T":34,"I":3.28},{"s":"IMC-TLE","T":36,"I":3.35},{"s":"IMC-TLE","T":38,"I":3.42},{"s":"IMC-TLE","T":40,"I":3.5},{"s":"IMC-TLE","T":42,"I":3.58},{"s":"IMC-TLE","T":44,"I":3.65},{"s":"IMC-TLE","T":46,"I":3.73},{"s":"IMC-TLE","T":48,"I":3.8},{"s":"IMC-TLE","T":50,"I":3.88},{"s":"IMC-TLE","T":52,"I":3.95},{"s":"IMC-TLE","T":54,"I":3.99},{"s":"IMC-TLE","T":56,"I":4.05},{"s":"IMC-TLE","T":58,"I":4.1},{"s":"IMC-TLE","T":60,"I":4.14},{"s":"IMC-TLE","T":62,"I":4.2},{"s":"IMC-TLE","T":64,"I":4.26},{"s":"IMC-TLE","T":66,"I":4.32},{"s":"IMC-TLE","T":68,"I":4.38},{"s":"IMC-TLE","T":70,"I":4.45},{"s":"IMC-TLE","T":72,"I":4.48},{"s":"IMC-TLE","T":74,"I":4.52},{"s":"IMC-TLE","T":76,"I":4.57},{"s":"IMC-TLE","T":78,"I":4.62},{"s":"IMC-TLE","T":80,"I":4.67},{"s":"IMC-TLE","T":82,"I":4.74},{"s":"IMC-TLE","T":84,"I":4.8},{"s":"IMC-TLE","T":86,"I":4.7},{"s":"IMC-TLE","T":87,"I":4.66},{"s":"IMC-TLE","T":88,"I":4.72},
            {"s":"IMC QL","T":-50,"I":2.82},{"s":"IMC QL","T":-48,"I":2.9},{"s":"IMC QL","T":-46,"I":2.78},{"s":"IMC QL","T":-44,"I":2.93},{"s":"IMC QL","T":-42,"I":2.88},{"s":"IMC QL","T":-40,"I":2.96},{"s":"IMC QL","T":-38,"I":2.92},{"s":"IMC QL","T":-36,"I":3.0},{"s":"IMC QL","T":-34,"I":2.95},{"s":"IMC QL","T":-32,"I":3.03},{"s":"IMC QL","T":-30,"I":3.0},{"s":"IMC QL","T":-28,"I":3.08},{"s":"IMC QL","T":-26,"I":3.05},{"s":"IMC QL","T":-24,"I":3.12},{"s":"IMC QL","T":-22,"I":3.08},{"s":"IMC QL","T":-20,"I":3.15},{"s":"IMC QL","T":-18,"I":3.12},{"s":"IMC QL","T":-16,"I":3.18},{"s":"IMC QL","T":-14,"I":3.15},{"s":"IMC QL","T":-12,"I":3.22},{"s":"IMC QL","T":-10,"I":3.19},{"s":"IMC QL","T":-8,"I":3.25},{"s":"IMC QL","T":-6,"I":3.22},{"s":"IMC QL","T":-4,"I":3.28},{"s":"IMC QL","T":-2,"I":3.25},{"s":"IMC QL","T":0,"I":3.31},{"s":"IMC QL","T":2,"I":3.28},{"s":"IMC QL","T":4,"I":3.34},{"s":"IMC QL","T":6,"I":3.31},{"s":"IMC QL","T":8,"I":3.37},{"s":"IMC QL","T":10,"I":3.34},{"s":"IMC QL","T":12,"I":3.4},{"s":"IMC QL","T":14,"I":3.38},{"s":"IMC QL","T":16,"I":3.43},{"s":"IMC QL","T":18,"I":3.41},{"s":"IMC QL","T":20,"I":3.46},{"s":"IMC QL","T":22,"I":3.44},{"s":"IMC QL","T":24,"I":3.49},{"s":"IMC QL","T":26,"I":3.47},{"s":"IMC QL","T":28,"I":3.52},{"s":"IMC QL","T":30,"I":3.5},{"s":"IMC QL","T":32,"I":3.56},{"s":"IMC QL","T":34,"I":3.58},{"s":"IMC QL","T":36,"I":3.62},{"s":"IMC QL","T":38,"I":3.67},{"s":"IMC QL","T":40,"I":3.72},{"s":"IMC QL","T":42,"I":3.78},{"s":"IMC QL","T":44,"I":3.83},{"s":"IMC QL","T":46,"I":3.88},{"s":"IMC QL","T":48,"I":3.95},{"s":"IMC QL","T":50,"I":4.0},{"s":"IMC QL","T":52,"I":4.05},{"s":"IMC QL","T":54,"I":4.11},{"s":"IMC QL","T":56,"I":4.17},{"s":"IMC QL","T":58,"I":4.22},{"s":"IMC QL","T":60,"I":4.28},{"s":"IMC QL","T":62,"I":4.33},{"s":"IMC QL","T":64,"I":4.39},{"s":"IMC QL","T":66,"I":4.45},{"s":"IMC QL","T":68,"I":4.51},{"s":"IMC QL","T":70,"I":4.57},{"s":"IMC QL","T":72,"I":4.63},{"s":"IMC QL","T":74,"I":4.69},{"s":"IMC QL","T":76,"I":4.75},{"s":"IMC QL","T":78,"I":4.82},{"s":"IMC QL","T":80,"I":4.88},{"s":"IMC QL","T":82,"I":4.94},{"s":"IMC QL","T":84,"I":5.0},{"s":"IMC QL","T":86,"I":5.06},{"s":"IMC QL","T":88,"I":5.12},{"s":"IMC QL","T":90,"I":5.18},{"s":"IMC QL","T":92,"I":5.25},{"s":"IMC QL","T":94,"I":5.31},{"s":"IMC QL","T":96,"I":5.37},{"s":"IMC QL","T":98,"I":5.44},{"s":"IMC QL","T":100,"I":5.52},
            {"s":"IMC cryomil","T":-50,"I":2.28},{"s":"IMC cryomil","T":-47,"I":2.36},{"s":"IMC cryomil","T":-45,"I":2.4},{"s":"IMC cryomil","T":-43,"I":2.45},{"s":"IMC cryomil","T":-40,"I":2.44},{"s":"IMC cryomil","T":-38,"I":2.55},{"s":"IMC cryomil","T":-36,"I":2.59},{"s":"IMC cryomil","T":-34,"I":2.62},{"s":"IMC cryomil","T":-31,"I":2.72},{"s":"IMC cryomil","T":-28,"I":2.8},{"s":"IMC cryomil","T":-26,"I":2.86},{"s":"IMC cryomil","T":-23,"I":2.92},{"s":"IMC cryomil","T":-20,"I":2.98},{"s":"IMC cryomil","T":-18,"I":3.05},{"s":"IMC cryomil","T":-16,"I":3.12},{"s":"IMC cryomil","T":-13,"I":3.2},{"s":"IMC cryomil","T":-10,"I":3.28},{"s":"IMC cryomil","T":-7,"I":3.33},{"s":"IMC cryomil","T":-4,"I":3.38},{"s":"IMC cryomil","T":-1,"I":3.4},{"s":"IMC cryomil","T":2,"I":3.45},{"s":"IMC cryomil","T":5,"I":3.48},{"s":"IMC cryomil","T":8,"I":3.5},{"s":"IMC cryomil","T":11,"I":3.52},{"s":"IMC cryomil","T":14,"I":3.54},{"s":"IMC cryomil","T":17,"I":3.57},{"s":"IMC cryomil","T":20,"I":3.5},{"s":"IMC cryomil","T":22,"I":3.35},{"s":"IMC cryomil","T":24,"I":3.15},{"s":"IMC cryomil","T":25,"I":3.09},{"s":"IMC cryomil","T":27,"I":2.99},{"s":"IMC cryomil","T":29,"I":2.89},{"s":"IMC cryomil","T":31,"I":2.78},{"s":"IMC cryomil","T":32.5,"I":2.71},{"s":"IMC cryomil","T":34,"I":2.64},{"s":"IMC cryomil","T":35.6,"I":2.57},{"s":"IMC cryomil","T":37.2,"I":2.47},{"s":"IMC cryomil","T":38.8,"I":2.39},{"s":"IMC cryomil","T":40.9,"I":2.27},{"s":"IMC cryomil","T":42.5,"I":2.18},{"s":"IMC cryomil","T":44.1,"I":2.09},{"s":"IMC cryomil","T":46.2,"I":1.88},{"s":"IMC cryomil","T":48.3,"I":1.75},{"s":"IMC cryomil","T":50.4,"I":1.54},{"s":"IMC cryomil","T":51.9,"I":1.37},{"s":"IMC cryomil","T":53.5,"I":1.16},{"s":"IMC cryomil","T":55.6,"I":0.92},{"s":"IMC cryomil","T":57.2,"I":0.75},{"s":"IMC cryomil","T":58.8,"I":0.54},{"s":"IMC cryomil","T":60.4,"I":0.37},{"s":"IMC cryomil","T":62,"I":0.27},{"s":"IMC cryomil","T":63.5,"I":0.23},{"s":"IMC cryomil","T":65,"I":0.21},{"s":"IMC cryomil","T":67,"I":0.2},{"s":"IMC cryomil","T":69,"I":0.2},{"s":"IMC cryomil","T":71,"I":0.19},{"s":"IMC cryomil","T":73,"I":0.2},{"s":"IMC cryomil","T":75,"I":0.2},{"s":"IMC cryomil","T":77,"I":0.21},{"s":"IMC cryomil","T":79,"I":0.22},{"s":"IMC cryomil","T":81,"I":0.24},{"s":"IMC cryomil","T":83,"I":0.25},{"s":"IMC cryomil","T":85,"I":0.28},{"s":"IMC cryomil","T":87,"I":0.3},{"s":"IMC cryomil","T":89,"I":0.33},{"s":"IMC cryomil","T":91,"I":0.37},{"s":"IMC cryomil","T":93,"I":0.41},{"s":"IMC cryomil","T":95,"I":0.44},{"s":"IMC cryomil","T":97,"I":0.46},{"s":"IMC cryomil","T":99,"I":0.48}
          ]},
          "mark": {"type": "point", "filled": true, "opacity": 1},
          "encoding": {
            "x": {"field": "T", "type": "quantitative", "scale": {"domain": [-50, 100], "nice": false, "zero": false},
              "axis": {"values": [-50, -25, 0, 25, 50, 75, 100], "labelExpr": "'' + datum.value", "tickSize": 8, "tickWidth": 2.5, "tickColor": "#000", "domainColor": "#000", "domainWidth": 2.5, "labelFontSize": 36, "labelBaseline": "alphabetic", "labelPadding": 48, "title": "Temperature (°C)", "titleFontSize": 44, "titleY": 127, "titleBaseline": "alphabetic"}},
            "y": {"field": "I", "type": "quantitative", "scale": {"domain": [0, 6.03], "nice": false, "zero": false},
              "axis": {"orient": "left", "values": [1, 2, 3, 4, 5], "labels": false, "tickSize": 8, "tickWidth": 2.5, "tickColor": "#000", "domainColor": "#000", "domainWidth": 2.5, "title": "I", "titleFontSize": 44, "titleX": -65, "titleY": 323, "titleAngle": 270, "titleAlign": "center", "titleBaseline": "alphabetic"}},
            "shape": {"field": "s", "type": "nominal", "sort": null,
              "scale": {"domain": ["IMC-LEU", "IMC-NLE", "IMC-TLE", "IMC QL", "IMC cryomil"], "range": ["M-1,-1L1,1M-1,1L1,-1", "cross", "cross", "M-1,-1L1,1M-1,1L1,-1", "circle"]},
              "legend": {"orient": "none", "legendX": 13.5, "legendY": 24.75, "title": null, "clipHeight": 38.5, "rowPadding": 0, "labelOffset": 34.5, "labelFontSize": 30, "padding": 0}},
            "fill": {"field": "s", "type": "nominal", "sort": null,
              "scale": {"domain": ["IMC-LEU", "IMC-NLE", "IMC-TLE", "IMC QL", "IMC cryomil"], "range": ["#6d9eeb", "#ff1010", "#000000", "#1a9e1a", "#19e619"]},
              "legend": {"orient": "none", "legendX": 13.5, "legendY": 24.75, "title": null, "clipHeight": 38.5, "rowPadding": 0, "labelOffset": 34.5, "labelFontSize": 30, "padding": 0}},
            "stroke": {"field": "s", "type": "nominal", "sort": null,
              "scale": {"domain": ["IMC-LEU", "IMC-NLE", "IMC-TLE", "IMC QL", "IMC cryomil"], "range": ["#6d9eeb", "#ff1010", "#000000", "#1a9e1a", "#19e619"]},
              "legend": {"orient": "none", "legendX": 13.5, "legendY": 24.75, "title": null, "clipHeight": 38.5, "rowPadding": 0, "labelOffset": 34.5, "labelFontSize": 30, "padding": 0}},
            "size": {"field": "s", "type": "nominal", "sort": null,
              "scale": {"type": "ordinal", "domain": ["IMC-LEU", "IMC-NLE", "IMC-TLE", "IMC QL", "IMC cryomil"], "range": [169, 58, 110, 210, 55]},
              "legend": {"orient": "none", "legendX": 13.5, "legendY": 24.75, "title": null, "clipHeight": 38.5, "rowPadding": 0, "labelOffset": 34.5, "labelFontSize": 30, "padding": 0}},
            "strokeWidth": {"field": "s", "type": "nominal", "sort": null,
              "scale": {"type": "ordinal", "domain": ["IMC-LEU", "IMC-NLE", "IMC-TLE", "IMC QL", "IMC cryomil"], "range": [1.6, 1, 0.6, 3.8, 1]},
              "legend": {"orient": "none", "legendX": 13.5, "legendY": 24.75, "title": null, "clipHeight": 38.5, "rowPadding": 0, "labelOffset": 34.5, "labelFontSize": 30, "padding": 0}}
          }
        },
        {
          "data": {"values": [{"id": "m1", "T": -50, "I": 1.64}, {"id": "m1", "T": 35, "I": 2.45}, {"id": "m2", "T": 10, "I": 2.05}, {"id": "m2", "T": 50, "I": 3.25}]},
          "mark": {"type": "line", "color": "#f03cc8", "strokeWidth": 4, "strokeDash": [26, 12]},
          "encoding": {
            "x": {"field": "T", "type": "quantitative", "scale": {"domain": [-50, 100], "nice": false, "zero": false},
              "axis": {"orient": "bottom", "values": [-50,-45,-40,-35,-30,-25,-20,-15,-10,-5,0,5,10,15,20,25,30,35,40,45,50,55,60,65,70,75,80,85,90,95,100], "labels": false, "tickSize": 4, "tickWidth": 2, "tickColor": "#000", "domainColor": "#000", "domainWidth": 2.5, "title": null}},
            "y": {"field": "I", "type": "quantitative", "scale": {"domain": [0, 6.03], "nice": false, "zero": false},
              "axis": {"orient": "left", "domain": false, "ticks": false, "labels": false, "title": "QES", "titleFontSize": 26, "titleX": -54, "titleY": 298, "titleAngle": 270, "titleAlign": "center", "titleBaseline": "alphabetic"}},
            "detail": {"field": "id"}
          }
        },
        {
          "data": {"values": [{"id": "b1", "T": -50, "I": 2.02}, {"id": "b1", "T": 34, "I": 2.84}, {"id": "b2", "T": 24, "I": 2.78}, {"id": "b2", "T": 51, "I": 3.8}]},
          "mark": {"type": "line", "color": "#2a78b5", "strokeWidth": 4, "strokeDash": [30, 10]},
          "encoding": {
            "x": {"field": "T", "type": "quantitative", "scale": {"domain": [-50, 100], "nice": false, "zero": false}, "axis": null},
            "y": {"field": "I", "type": "quantitative", "scale": {"domain": [0, 6.03], "nice": false, "zero": false}, "axis": null},
            "detail": {"field": "id"}
          }
        },
        {
          "data": {"values": [{"id": "g1", "T": -50, "I": 2.86}, {"id": "g1", "T": 62, "I": 3.68}, {"id": "g2", "T": 28, "I": 3.42}, {"id": "g2", "T": 101, "I": 5.56}]},
          "mark": {"type": "line", "color": "#22dd22", "strokeWidth": 4.5, "strokeDash": [28, 10]},
          "encoding": {
            "x": {"field": "T", "type": "quantitative", "scale": {"domain": [-50, 100], "nice": false, "zero": false}, "axis": null},
            "y": {"field": "I", "type": "quantitative", "scale": {"domain": [0, 6.03], "nice": false, "zero": false}, "axis": null},
            "detail": {"field": "id"}
          }
        },
        {
          "data": {"values": [{"T": 18.1, "lo": 0.14, "hi": 2.19}]},
          "mark": {"type": "rule", "color": "#ff2020", "strokeWidth": 2.5, "strokeDash": [12, 8]},
          "encoding": {
            "x": {"field": "T", "type": "quantitative", "scale": {"domain": [-50, 100], "nice": false, "zero": false}, "axis": null},
            "y": {"field": "lo", "type": "quantitative", "scale": {"domain": [0, 6.03], "nice": false, "zero": false}, "axis": null},
            "y2": {"field": "hi"}
          }
        },
        {
          "data": {"values": [{"T": 26.1, "lo": 0.02, "hi": 2.5}]},
          "mark": {"type": "rule", "color": "#1e9be8", "strokeWidth": 2.5, "strokeDash": [12, 8]},
          "encoding": {
            "x": {"field": "T", "type": "quantitative", "scale": {"domain": [-50, 100], "nice": false, "zero": false}, "axis": null},
            "y": {"field": "lo", "type": "quantitative", "scale": {"domain": [0, 6.03], "nice": false, "zero": false}, "axis": null},
            "y2": {"field": "hi"}
          }
        },
        {
          "data": {"values": [{"T": 38.3, "lo": 0.04, "hi": 2.88}]},
          "mark": {"type": "rule", "color": "#1aa04a", "strokeWidth": 2.5, "strokeDash": [12, 8]},
          "encoding": {
            "x": {"field": "T", "type": "quantitative", "scale": {"domain": [-50, 100], "nice": false, "zero": false}, "axis": null},
            "y": {"field": "lo", "type": "quantitative", "scale": {"domain": [0, 6.03], "nice": false, "zero": false}, "axis": null},
            "y2": {"field": "hi"}
          }
        },
        {
          "data": {"values": [{"label": "b)", "T": 85, "I": 5.71}]},
          "mark": {"type": "text", "fontSize": 42, "align": "center", "baseline": "middle"},
          "encoding": {
            "x": {"field": "T", "type": "quantitative", "scale": {"domain": [-50, 100], "nice": false, "zero": false}, "axis": null},
            "y": {"field": "I", "type": "quantitative", "scale": {"domain": [0, 6.03], "nice": false, "zero": false}, "axis": null},
            "text": {"field": "label"}
          }
        }
      ]
    }
  ]
}
